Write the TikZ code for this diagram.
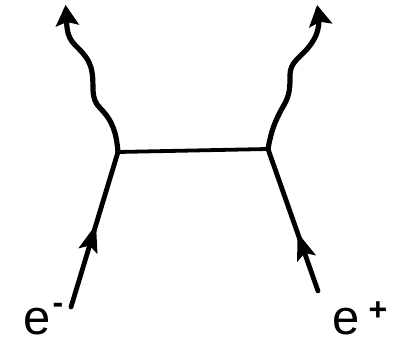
\documentclass[tikz,border=0pt]{standalone}
\usepackage{fontspec}
\setmainfont{Liberation Sans}
\usetikzlibrary{decorations.markings}
\begin{document}
\begin{tikzpicture}[x=1pt,y=-1pt,
  fermion/.style={line width=4.8pt,line cap=round,
    decoration={markings,mark=at position #1 with {\fill (2pt,0pt) -- (-26pt,10pt) -- (-20pt,0pt) -- (-26pt,-10pt) -- cycle;}},postaction={decorate}},
  photon/.style={line width=5.2pt,line cap=round,
    decoration={markings,mark=at position 1 with {\fill (5pt,0pt) -- (-16pt,12pt) -- (-12pt,0pt) -- (-16pt,-12pt) -- cycle;}},postaction={decorate}},
  prop/.style={line width=3.8pt},
  lbl/.style={font=\fontsize{49}{54}\selectfont,inner sep=0pt},
  sup/.style={font=\fontsize{32}{34}\selectfont\bfseries,inner sep=0pt}]
\useasboundingbox (0,0) rectangle (397,344);
\coordinate (v1) at (118,152);
\coordinate (v2) at (268,149);
\coordinate (em) at (71,307);
\coordinate (ep) at (318,291);
\coordinate (g1) at (66,10);
\coordinate (g2) at (318,10);
\draw[prop] (v1) -- (v2);
\draw[fermion=0.52] (em) -- (v1);
\draw[fermion=0.4] (ep) -- (v2);
\draw[photon] (v1) to[out=95,in=-45] (100,108) to[out=135,in=-80] (92,72)
  to[out=100,in=-45] (75,45) to[out=135,in=-85] (g1);
\draw[photon] (v2) to[out=80,in=-120] (284,105) to[out=60,in=-90] (290,75)
  to[out=90,in=-130] (308,48) to[out=50,in=-80] (g2);
\node[lbl,anchor=base] (lm) at (37,335) {e};
\node[lbl,anchor=base] (lp) at (346,335) {e};
\node[sup] (sm) at (58,308) {-};
\node[sup] (sp) at (378,311) {+};
\end{tikzpicture}
\end{document}
